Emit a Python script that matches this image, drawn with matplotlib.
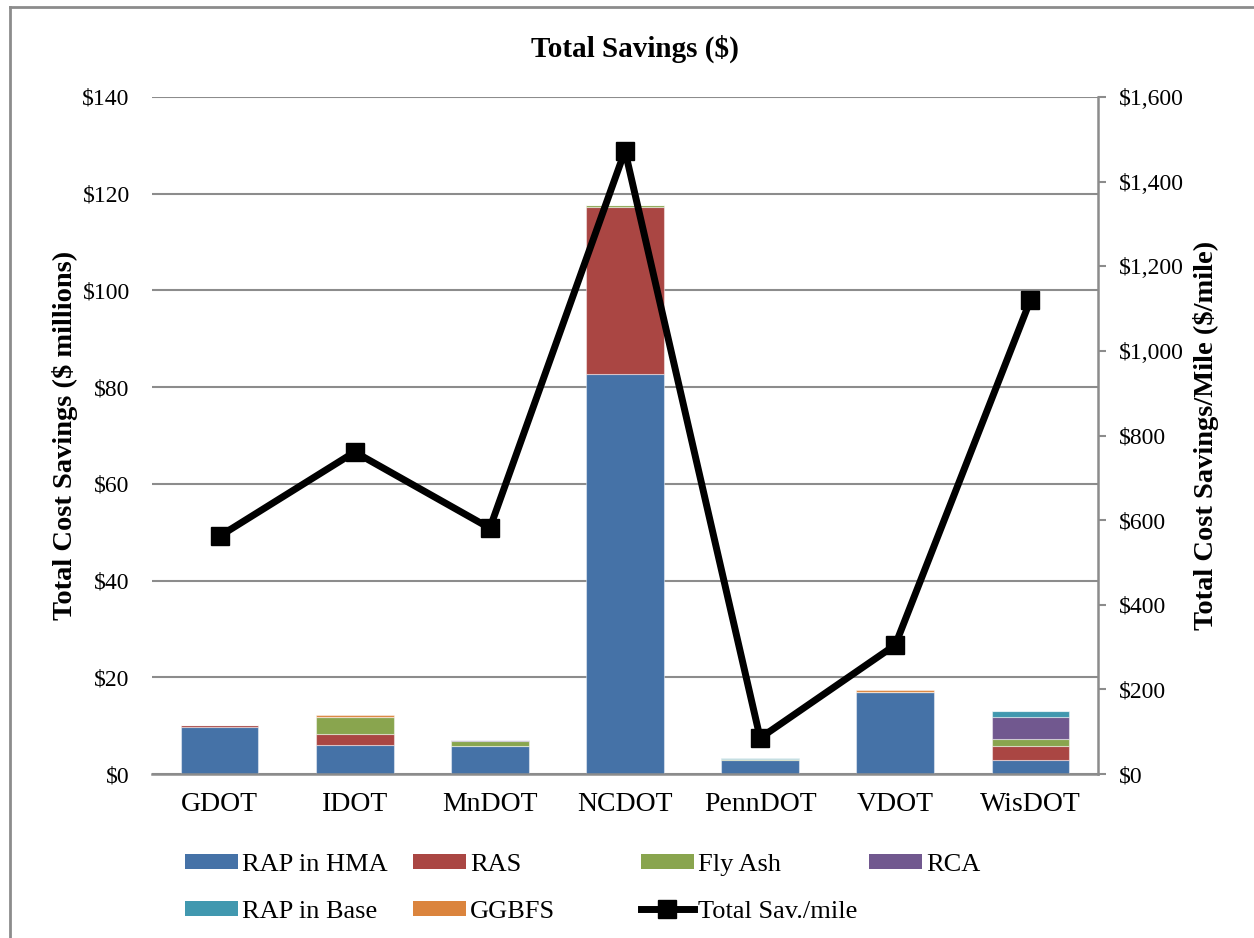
import matplotlib
matplotlib.use("Agg")
import matplotlib.pyplot as plt
import numpy as np
from matplotlib.patches import Patch
from matplotlib.lines import Line2D
from matplotlib.ticker import FuncFormatter, MultipleLocator

plt.rcParams['font.family'] = ['Liberation Serif', 'DejaVu Serif']

categories = ['GDOT', 'IDOT', 'MnDOT', 'NCDOT', 'PennDOT', 'VDOT', 'WisDOT']
rap_hma = [9.8, 6.0, 5.7, 82.7, 2.8, 16.9, 2.8]
ras = [0.3, 2.2, 0.0, 34.5, 0.0, 0.0, 2.9]
fly_ash = [0.0, 3.6, 1.2, 0.4, 0.2, 0.0, 1.6]
rca = [0.0, 0.0, 0.15, 0.0, 0.0, 0.0, 4.5]
rap_base = [0.0, 0.0, 0.0, 0.0, 0.3, 0.0, 1.2]
ggbfs = [0.0, 0.3, 0.0, 0.0, 0.0, 0.5, 0.0]
per_mile = [562, 761, 581, 1473, 85, 305, 1120]

series = [
    ('RAP in HMA', rap_hma, '#4572A7'),
    ('RAS', ras, '#AA4643'),
    ('Fly Ash', fly_ash, '#89A54E'),
    ('RCA', rca, '#71588F'),
    ('RAP in Base', rap_base, '#4198AF'),
    ('GGBFS', ggbfs, '#DB843D'),
]

W, H = 1254, 938
fig = plt.figure(figsize=(W / 100, H / 100), dpi=100)
ax = fig.add_axes([152 / W, 1 - 774 / H, (1098 - 152) / W, (774 - 97) / H])
ax2 = ax.twinx()

x = np.arange(len(categories))
bottom = np.zeros(len(categories))
for name, vals, col in series:
    v = np.array(vals)
    ax.bar(x, v, width=0.575, bottom=bottom, color=col, edgecolor=(1, 1, 1, 0.45),
           linewidth=0.8, label=name, zorder=3)
    bottom += v

ax.set_xlim(-0.5, len(categories) - 0.5)
ax.set_ylim(0, 140)
ax.yaxis.set_major_locator(MultipleLocator(20))
ax.yaxis.set_major_formatter(FuncFormatter(lambda v, p: f'${v:,.0f}'))
ax.grid(axis='y', color='#8c8c8c', linewidth=1.5, zorder=0)
ax.set_axisbelow(True)
ax.set_xticks(x)
ax.set_xticklabels(categories, fontsize=20)
ax.tick_params(axis='x', length=0, pad=13)
ax.tick_params(axis='y', length=0, pad=16, labelsize=17)
for s in ['left', 'top', 'right']:
    ax.spines[s].set_visible(False)
ax.spines['bottom'].set_color('#8c8c8c')
ax.spines['bottom'].set_linewidth(1.8)
ax.spines['bottom'].set_zorder(4)

ax2.plot(x, per_mile, color='black', linewidth=5, marker='s', markersize=13,
         label='Total Sav./mile', zorder=5)
ax2.set_ylim(0, 1600)
ax2.yaxis.set_major_locator(MultipleLocator(200))
ax2.yaxis.set_major_formatter(FuncFormatter(lambda v, p: f'${v:,.0f}'))
ax2.tick_params(axis='y', length=6, width=1.5, color='#8c8c8c', pad=9, labelsize=17)
for s in ['left', 'top', 'bottom']:
    ax2.spines[s].set_visible(False)
ax2.spines['right'].set_color('#8c8c8c')
ax2.spines['right'].set_linewidth(1.8)

ax.set_ylabel('Total Cost Savings ($ millions)', fontsize=20.5, fontweight='bold')
ax.yaxis.set_label_coords((78 - 152) / 946, 0.5)
ax2.set_ylabel('Total Cost Savings/Mile ($/mile)', fontsize=20.5, fontweight='bold',
               rotation=90)
ax2.yaxis.set_label_coords((1193 - 152) / 946, 0.5)

fig.text(635 / W, 1 - 49 / H, 'Total Savings ($)', fontsize=21, fontweight='bold',
         ha='center', va='center')

# legend in 4 equal columns
handles = {name: Patch(facecolor=col, edgecolor='none') for name, _, col in series}
handles['Total Sav./mile'] = Line2D([], [], color='black', linewidth=5, marker='s',
                                    markersize=13)
columns = [['RAP in HMA', 'RAP in Base'], ['RAS', 'GGBFS'],
           ['Fly Ash', 'Total Sav./mile'], ['RCA']]
col_x = [185, 413, 641, 869]
for cx, names in zip(col_x, columns):
    fig.legend([handles[n] for n in names], names, loc='upper left',
               bbox_to_anchor=(cx / W, 1 - 854 / H), frameon=False, fontsize=19,
               borderpad=0, borderaxespad=0, handlelength=2.0, handleheight=0.5,
               handletextpad=0.15, labelspacing=0.94)

# outer frame lines
fig.add_artist(Line2D([10 / W, 10 / W], [0, 1 - 7 / H], color='#8c8c8c', linewidth=2,
                      transform=fig.transFigure))
fig.add_artist(Line2D([10 / W, 1], [1 - 7 / H, 1 - 7 / H], color='#8c8c8c', linewidth=2,
                      transform=fig.transFigure))

fig.savefig('out.png', dpi=100, facecolor='white')
